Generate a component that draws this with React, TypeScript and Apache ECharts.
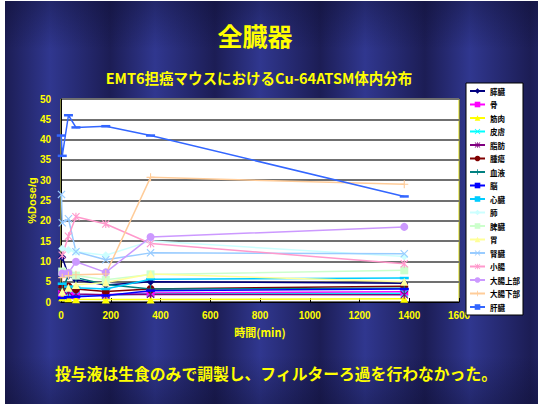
import React, { useEffect, useRef } from "react";
import * as echarts from "echarts";

const organs = ["膵臓", "骨", "筋肉", "皮膚", "脂肪", "腫瘍", "血液", "脳", "心臓", "肺", "脾臓", "胃", "腎臓", "小腸", "大腸上部", "大腸下部", "肝臓"];
const colors = ["#000080", "#FF00FF", "#FFFF00", "#00FFFF", "#800080", "#800000", "#008080", "#0000FF", "#00CCFF", "#CCFFFF", "#CCFFCC", "#FFFF99", "#99CCFF", "#FF99CC", "#CC99FF", "#FFCC99", "#3366FF"];

const times = [5, 30, 60, 180, 360, 1380];
const timesKidney = [2, 5, 30, 60, 180, 360, 1380];
const timesLiver = [1, 5, 30, 60, 180, 360, 1380];

const pancreas = [11, 6.5, 5.5, 4.2, 5.0, 4.6];
const bone = [2, 1.8, 1.7, 1.8, 2.2, 2.5];
const muscle = [1.2, 0.9, 0.7, 0.6, 0.6, 0.8];
const skin = [2.5, 2, 1.8, 1.7, 2, 2.1];
const fat = [3, 2.5, 2, 1.8, 1.9, 1.8];
const tumor = [3.5, 3.8, 3.2, 2.6, 3.2, 3.9];
const blood = [3.2, 6.5, 6, 4.3, 3.2, 3.4];
const brain = [1, 1.2, 1.3, 1.6, 2.8, 3.2];
const heart = [4.5, 3.8, 3.5, 3.2, 5.6, 5.9];
const lung = [13.2, 12.8, 12.4, 11.5, 15, 11.2];
const spleen = [7.5, 7, 6.5, 5.5, 6.8, 7.8];
const stomach = [2.5, 3.5, 4.2, 4.8, 6.9, 5];
const kidney = [26.5, 19.5, 20.5, 12.4, 10.4, 12.1, 11.9];
const smallIntestine = [11.5, 16.2, 21, 19.2, 14.4, 9.4];
const colonUpper = [7, 7.2, 9.9, 7.3, 16, 18.5];
const colonLower = [6, 6.5, 6.7, 6.9, 30.7, 29];
const liver = [41, 36, 46, 43, 43.3, 41, 26];

const xTicks = [0, 200, 400, 600, 800, 1000, 1200, 1400, 1600];
const yTicks = [0, 5, 10, 15, 20, 25, 30, 35, 40, 45, 50];

const X_PATH = "path://M1,0L5,4L9,0L10,1L6,5L10,9L9,10L5,6L1,10L0,9L4,5L0,1Z";
const STAR_PATH = "path://M1,0L5,4L9,0L10,1L6,5L10,9L9,10L5,6L1,10L0,9L4,5L0,1Z M4.3,0H5.7V10H4.3Z";
const PLUS_PATH = "path://M4.3,0H5.7V4.3H10V5.7H5.7V10H4.3V5.7H0V4.3H4.3Z";
const DASH = "rect";

const symbols = ["diamond", "rect", "triangle", X_PATH, STAR_PATH, "circle", PLUS_PATH, DASH, DASH, "diamond", "rect", "triangle", X_PATH, STAR_PATH, "circle", PLUS_PATH, DASH];
const isDash = [false, false, false, false, false, false, false, true, true, false, false, false, false, false, false, false, true];

const seriesValues = [pancreas, bone, muscle, skin, fat, tumor, blood, brain, heart, lung, spleen, stomach, kidney, smallIntestine, colonUpper, colonLower, liver];
const seriesTimes = organs.map((_, i) => (i === 12 ? timesKidney : i === 16 ? timesLiver : times));

const FONT = "'Noto Sans CJK JP', 'Liberation Sans', sans-serif";

export default function App() {
  const ref = useRef<HTMLDivElement>(null);
  useEffect(() => {
    if (!ref.current) return;
    const chart = echarts.init(ref.current, undefined, { renderer: "svg" });
    const series = organs.map((name, i) => ({
      name,
      type: "line",
      data: seriesTimes[i].map((t, j) => [t, seriesValues[i][j]]),
      symbol: symbols[i],
      symbolSize: isDash[i] ? [9, 2.5] : 8,
      showSymbol: true,
      lineStyle: { color: colors[i], width: 1.5 },
      itemStyle: { color: colors[i], borderColor: colors[i], borderWidth: 0 },
      emphasis: { disabled: true },
    }));
    chart.setOption({
      animation: false,
      backgroundColor: "transparent",
      textStyle: { fontFamily: FONT },
      grid: {
        left: 61,
        right: 79,
        top: 99,
        bottom: 102,
        show: true,
        backgroundColor: "#ffffff",
        borderColor: "#d8d800",
        borderWidth: 1,
      },
      graphic: [
        {
          type: "text",
          x: 255,
          y: 35,
          style: {
            text: "全臓器",
            fill: "#ffff00",
            font: `bold 25px ${FONT}`,
            textAlign: "center",
            textVerticalAlign: "middle",
          },
        },
        {
          type: "text",
          x: 259,
          y: 77,
          style: {
            text: "EMT6担癌マウスにおけるCu-64ATSM体内分布",
            fill: "#ffff00",
            font: `bold 14.5px ${FONT}`,
            textAlign: "center",
            textVerticalAlign: "middle",
          },
        },
        {
          type: "text",
          x: 276,
          y: 373,
          style: {
            text: "投与液は生食のみで調製し、フィルターろ過を行わなかった。",
            fill: "#ffff00",
            font: `bold 15.8px ${FONT}`,
            textAlign: "center",
            textVerticalAlign: "middle",
          },
        },
      ],
      legend: {
        orient: "vertical",
        left: 466,
        top: 83,
        width: 50,
        padding: [4, 3, 4, 3],
        backgroundColor: "#ffffff",
        borderColor: "#000000",
        borderWidth: 1,
        itemWidth: 15,
        itemHeight: 7,
        itemGap: 5.5,
        data: organs,
        textStyle: { fontSize: 7.5, fontWeight: "bold", color: "#000", lineHeight: 8, fontFamily: FONT },
      },
      xAxis: {
        type: "value",
        min: xTicks[0],
        max: xTicks[xTicks.length - 1],
        interval: xTicks[1] - xTicks[0],
        name: "時間(min)",
        nameLocation: "middle",
        nameGap: 24,
        nameMoveOverlap: false,
        nameTextStyle: { color: "#ffff00", fontWeight: "bold", fontSize: 11, fontFamily: FONT },
        axisLine: { show: true, lineStyle: { color: "#000", width: 1 } },
        axisTick: { show: true, inside: true, length: 4, lineStyle: { color: "#000" } },
        axisLabel: {
          color: "#ffff00",
          fontWeight: "bold",
          fontSize: 10,
          margin: 8,
          fontFamily: "'Liberation Sans', sans-serif",
          formatter: (v: number) => String(v),
        },
        splitLine: { show: false },
      },
      yAxis: {
        type: "value",
        min: yTicks[0],
        max: yTicks[yTicks.length - 1],
        interval: yTicks[1] - yTicks[0],
        name: "%Dose/g",
        nameLocation: "middle",
        nameRotate: 90,
        nameGap: 24,
        nameMoveOverlap: false,
        nameTextStyle: { color: "#ffff00", fontWeight: "bold", fontSize: 11, fontFamily: "'Liberation Sans', sans-serif" },
        axisLine: { show: true, lineStyle: { color: "#000", width: 1 } },
        axisTick: { show: false },
        axisLabel: {
          color: "#ffff00",
          fontWeight: "bold",
          fontSize: 10,
          margin: 10,
          fontFamily: "'Liberation Sans', sans-serif",
          formatter: (v: number) => String(v),
        },
        splitLine: { show: true, lineStyle: { color: "#707070", width: 2 } },
      },
      series,
    });
    return () => chart.dispose();
  }, []);

  return (
    <div style={{ position: "absolute", left: 0, top: 0, width: 538, height: 404, background: "#ffffff", overflow: "hidden" }}>
      <div
        style={{
          position: "absolute",
          left: 5,
          top: 1,
          width: 533,
          height: 403,
          background:
            "linear-gradient(180deg, rgba(10,10,40,0.35) 0%, rgba(10,10,40,0) 12%, rgba(10,10,40,0) 88%, rgba(10,10,40,0.35) 100%), repeating-linear-gradient(90deg, #1c1d55 0px, #30378f 45px, #1c1d55 105px)",
        }}
      />
      <div ref={ref} style={{ position: "absolute", left: 0, top: 0, width: 538, height: 404 }} />
    </div>
  );
}
